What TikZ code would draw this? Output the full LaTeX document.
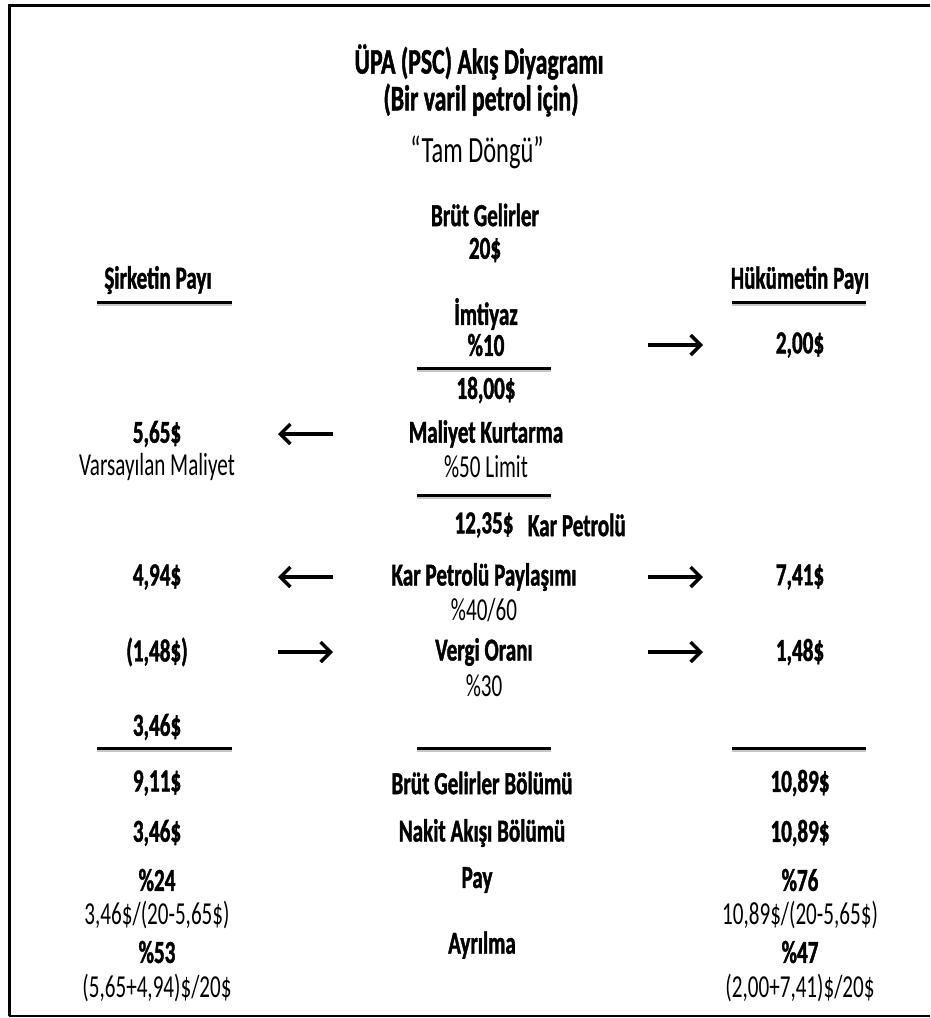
\documentclass[tikz,border=0pt]{standalone}
\usepackage{fontspec}
\setmainfont{Carlito}[FakeStretch=0.66, BoldFeatures={FakeBold=1.2}]
\usetikzlibrary{arrows.meta,positioning}

\begin{document}
\begin{tikzpicture}[
        x=1pt, y=-1pt,
        head/.style={font=\fontsize{36}{40}\selectfont\bfseries, inner sep=0pt},
        sub/.style={font=\fontsize{37}{40}\selectfont, inner sep=0pt},
        val/.style={font=\fontsize{32}{36}\selectfont\bfseries, inner sep=0pt},
        note/.style={font=\fontsize{32}{36}\selectfont, inner sep=0pt},
        rule/.style={line width=3pt, preaction={draw=black!22, line width=3.5pt, transform canvas={shift={(0pt,-2.5pt)}}}},
        flow/.style={-{Straight Barb[length=10pt, width=20pt]}, line width=3.5pt}
    ]
        \useasboundingbox (0,0) rectangle (930,1018);
        % frame
        \draw[line width=3pt] (930,5.5) -- (9,5.5) -- (9,1016);
        \draw[line width=1.5pt] (9,1016) -- (930,1016);

        % header
        \node[head] (title) at (479,62) {ÜPA (PSC) Akış Diyagramı};
        \node[head] (perbbl) at (481,100) {(Bir varil petrol için)};
        \node[sub] (cycle) at (477,152) {“Tam Döngü”};
        \node[val] (gross) at (485,215) {Brüt Gelirler};
        \node[val] (grossval) at (485,250) {20\$};

        % column heads
        \node[val] (comp) at (158,280) {Şirketin Payı};
        \node[val] (gov) at (800,280) {Hükümetin Payı};
        \draw[rule] (97,302) -- (232,302);
        \draw[rule] (732,302) -- (866,302);

        % royalty
        \node[val] (roy) at (486,314) {İmtiyaz};
        \node[val] (roypct) at (486,345) {\%10};
        \node[val] (govroy) at (800,345) {2,00\$};
        \draw[rule] (417,368) -- (551,368);
        \node[val] (net) at (486,390) {18,00\$};

        % cost recovery
        \node[val] (cost) at (486,434) {Maliyet Kurtarma};
        \node[note] (costlim) at (486,467) {\%50 Limit};
        \node[val] (compcost) at (157,434) {5,65\$};
        \node[note] (compcostlbl) at (157,467) {Varsayılan Maliyet};
        \draw[rule] (417,495) -- (551,495);
        \node[val] (profit) at (484,525) {12,35\$};
        \node[val, right=14pt of profit] (profitlbl) {Kar Petrolü};

        % profit split
        \node[val] (split) at (484,577) {Kar Petrolü Paylaşımı};
        \node[note] (splitpct) at (484,610) {\%40/60};
        \node[val] (compsplit) at (157,577) {4,94\$};
        \node[val] (govsplit) at (800,577) {7,41\$};

        % tax
        \node[val] (tax) at (484,652) {Vergi Oranı};
        \node[note] (taxpct) at (484,686) {\%30};
        \node[val] (comptax) at (157,652) {(1,48\$)};
        \node[val] (govtax) at (800,652) {1,48\$};
        \node[val] (compnet) at (157,727) {3,46\$};

        \draw[rule] (97,748) -- (232,748);
        \draw[rule] (417,748) -- (551,748);
        \draw[rule] (732,748) -- (866,748);

        % totals
        \node[val] (grosscut) at (482,783) {Brüt Gelirler Bölümü};
        \node[val] (compgross) at (157,783) {9,11\$};
        \node[val] (govgross) at (800,783) {10,89\$};
        \node[val] (cashcut) at (482,833) {Nakit Akışı Bölümü};
        \node[val] (compcash) at (157,833) {3,46\$};
        \node[val] (govcash) at (800,833) {10,89\$};
        \node[val] (share) at (477,880) {Pay};
        \node[val] (compshare) at (157,880) {\%24};
        \node[val] (govshare) at (800,880) {\%76};
        \node[note] (compsharef) at (157,915) {3,46\$/(20-5,65\$)};
        \node[note] (govsharef) at (800,915) {10,89\$/(20-5,65\$)};
        \node[val] (take) at (482,945) {Ayrılma};
        \node[val] (comptake) at (157,952) {\%53};
        \node[val] (govtake) at (800,952) {\%47};
        \node[note] (comptakef) at (157,988) {(5,65+4,94)\$/20\$};
        \node[note] (govtakef) at (800,988) {(2,00+7,41)\$/20\$};

        % arrows
        \coordinate (la) at (278,0);
        \coordinate (lb) at (333,0);
        \coordinate (ra) at (648,0);
        \coordinate (rb) at (703,0);
        \draw[flow] (ra |- roypct) -- (rb |- roypct);
        \draw[flow] (lb |- cost) -- (la |- cost);
        \draw[flow] (lb |- split) -- (la |- split);
        \draw[flow] (ra |- split) -- (rb |- split);
        \draw[flow] (la |- tax) -- (lb |- tax);
        \draw[flow] (ra |- tax) -- (rb |- tax);
    \end{tikzpicture}
\end{document}
